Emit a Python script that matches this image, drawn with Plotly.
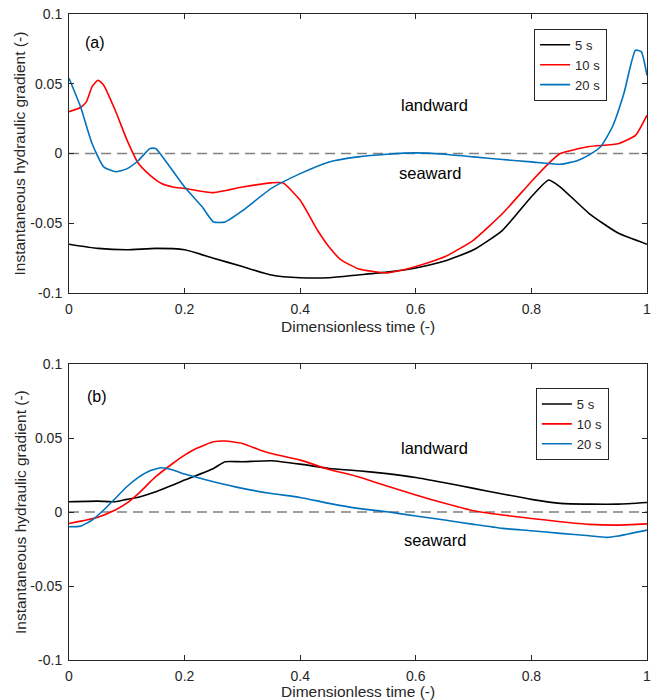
import plotly.graph_objects as go

# ---------------- data ----------------
series_names = ["5 s", "10 s", "20 s"]
series_colors = ["#000000", "#ff0000", "#0072bd"]

# Panel (a)
a_black_x = [0, 0.05, 0.1, 0.15, 0.2, 0.25, 0.3, 0.35, 0.4, 0.45, 0.5, 0.55, 0.6, 0.65, 0.7, 0.75, 0.8, 0.83, 0.85, 0.9, 0.95, 1.0]
a_black_y = [-0.065, -0.068, -0.069, -0.068, -0.069, -0.075, -0.081, -0.087, -0.089, -0.089, -0.087, -0.085, -0.082, -0.077, -0.069, -0.055, -0.031, -0.019, -0.024, -0.043, -0.057, -0.065]

a_red_x = [0, 0.02, 0.03, 0.04, 0.05, 0.06, 0.08, 0.1, 0.12, 0.14, 0.16, 0.18, 0.2, 0.25, 0.3, 0.35, 0.37, 0.4, 0.43, 0.45, 0.47, 0.5, 0.55, 0.6, 0.65, 0.7, 0.75, 0.8, 0.83, 0.85, 0.9, 0.95, 0.98, 1.0]
a_red_y = [0.030, 0.033, 0.037, 0.048, 0.0525, 0.049, 0.031, 0.010, -0.007, -0.0155, -0.0215, -0.024, -0.025, -0.028, -0.024, -0.021, -0.021, -0.0335, -0.055, -0.067, -0.076, -0.0825, -0.0855, -0.081, -0.074, -0.062, -0.043, -0.020, -0.007, 0.000, 0.005, 0.007, 0.013, 0.0275]

a_blue_x = [0, 0.02, 0.04, 0.06, 0.08, 0.1, 0.12, 0.14, 0.15, 0.17, 0.2, 0.23, 0.25, 0.27, 0.3, 0.35, 0.4, 0.45, 0.5, 0.55, 0.6, 0.65, 0.7, 0.75, 0.8, 0.85, 0.88, 0.9, 0.92, 0.94, 0.96, 0.98, 0.99, 1.0]
a_blue_y = [0.054, 0.0335, 0.007, -0.0096, -0.013, -0.011, -0.005, 0.0036, 0.0036, -0.007, -0.024, -0.038, -0.049, -0.049, -0.041, -0.025, -0.0144, -0.006, -0.0024, -0.0005, 0.0005, -0.0005, -0.0024, -0.0043, -0.006, -0.0077, -0.005, -0.001, 0.005, 0.019, 0.043, 0.074, 0.073, 0.056]

# Panel (b)
b_black_x = [0, 0.05, 0.08, 0.1, 0.12, 0.15, 0.2, 0.25, 0.27, 0.3, 0.35, 0.4, 0.45, 0.5, 0.55, 0.6, 0.65, 0.7, 0.75, 0.8, 0.85, 0.9, 0.95, 1.0]
b_black_y = [0.007, 0.0074, 0.007, 0.0086, 0.010, 0.0137, 0.0216, 0.0295, 0.034, 0.034, 0.0347, 0.0324, 0.0295, 0.0279, 0.026, 0.0234, 0.0198, 0.016, 0.0122, 0.0086, 0.0059, 0.0054, 0.0054, 0.0065]

b_red_x = [0, 0.03, 0.05, 0.08, 0.1, 0.12, 0.15, 0.18, 0.2, 0.22, 0.25, 0.27, 0.3, 0.33, 0.35, 0.4, 0.45, 0.5, 0.55, 0.6, 0.65, 0.7, 0.75, 0.8, 0.85, 0.9, 0.95, 1.0]
b_red_y = [-0.0077, -0.0054, -0.0035, 0.0014, 0.006, 0.0125, 0.0239, 0.033, 0.0385, 0.043, 0.0475, 0.048, 0.0464, 0.042, 0.0396, 0.0351, 0.0288, 0.0239, 0.0176, 0.0115, 0.0059, 0.0009, -0.002, -0.0043, -0.0065, -0.0083, -0.0088, -0.008]

b_blue_x = [0, 0.02, 0.04, 0.06, 0.08, 0.1, 0.12, 0.14, 0.16, 0.18, 0.2, 0.25, 0.3, 0.35, 0.4, 0.45, 0.5, 0.55, 0.6, 0.65, 0.7, 0.75, 0.8, 0.85, 0.9, 0.93, 0.95, 1.0]
b_blue_y = [-0.0099, -0.0095, -0.0054, 0.0014, 0.0092, 0.0171, 0.0234, 0.0279, 0.030, 0.0284, 0.0257, 0.0205, 0.016, 0.0126, 0.0099, 0.0059, 0.0025, 0.0002, -0.0027, -0.0054, -0.0083, -0.011, -0.0126, -0.0144, -0.016, -0.0171, -0.0162, -0.0122]

x_tickvals = [0, 0.2, 0.4, 0.6, 0.8, 1]
x_ticktext = ["0", "0.2", "0.4", "0.6", "0.8", "1"]
y_tickvals = [-0.1, -0.05, 0, 0.05, 0.1]
y_ticktext = ["-0.1", "-0.05", "0", "0.05", "0.1"]

x_title = "Dimensionless time (-)"
y_title = "Instantaneous hydraulic gradient (-)"

# ---------------- figure ----------------
FONT = "Liberation Sans, Arial, sans-serif"
AX = "#262626"

fig = go.Figure()

panel_a = [(a_black_x, a_black_y), (a_red_x, a_red_y), (a_blue_x, a_blue_y)]
panel_b = [(b_black_x, b_black_y), (b_red_x, b_red_y), (b_blue_x, b_blue_y)]

for (xs, ys), name, col in zip(panel_a, series_names, series_colors):
    fig.add_trace(go.Scatter(x=xs, y=ys, mode="lines", name=name,
                             line=dict(color=col, width=1.6, shape="spline", smoothing=0.5),
                             xaxis="x", yaxis="y", legend="legend"))
for (xs, ys), name, col in zip(panel_b, series_names, series_colors):
    fig.add_trace(go.Scatter(x=xs, y=ys, mode="lines", name=name,
                             line=dict(color=col, width=1.6, shape="spline", smoothing=0.5),
                             xaxis="x2", yaxis="y2", legend="legend2"))

axis_common = dict(showline=True, linecolor=AX, linewidth=1, mirror="ticks",
                   ticks="inside", ticklen=5, tickwidth=1, tickcolor=AX,
                   showgrid=False, zeroline=False, automargin=False,
                   ticklabeloverflow="allow",
                   tickfont=dict(family=FONT, size=14, color=AX))

legend_common = dict(xanchor="right", yanchor="top",
                     bgcolor="white", bordercolor=AX, borderwidth=1,
                     font=dict(family=FONT, size=13, color=AX), itemwidth=30,
                     tracegroupgap=0)

fig.update_layout(
    template="none",
    width=657, height=700,
    margin=dict(l=69, r=10, t=14, b=40, pad=0),
    paper_bgcolor="white", plot_bgcolor="white",
    font=dict(family=FONT, color=AX),
    xaxis=dict(range=[0, 1], domain=[0, 1], anchor="y", tickvals=x_tickvals, ticktext=x_ticktext,
               ticklabelstandoff=3, **axis_common),
    yaxis=dict(range=[-0.1, 0.1], domain=[0.568, 1], anchor="x", tickvals=y_tickvals, ticktext=y_ticktext,
               ticklabelstandoff=3, **axis_common),
    xaxis2=dict(range=[0, 1], domain=[0, 1], anchor="y2", tickvals=x_tickvals, ticktext=x_ticktext,
                ticklabelstandoff=3, **axis_common),
    yaxis2=dict(range=[-0.1, 0.1], domain=[0, 0.458], anchor="x2", tickvals=y_tickvals, ticktext=y_ticktext,
                ticklabelstandoff=3, **axis_common),
    legend=dict(x=0.931, y=0.977, **legend_common),
    legend2=dict(x=0.934, y=0.421, **legend_common),
    showlegend=True,
)

# zero reference lines
for xr, yr in [("x domain", "y"), ("x2 domain", "y2")]:
    fig.add_shape(type="line", xref=xr, yref=yr, x0=0, x1=1, y0=0, y1=0,
                  line=dict(color="#808080", width=1.5, dash="10px,6px"), layer="below")

ann_font = dict(family=FONT, size=16.5, color="#000000")
annotations = [
    dict(text="(a)", x=0.0444, y=0.0794, xref="x", yref="y", showarrow=False, font=dict(family=FONT, size=16, color="#000")),
    dict(text="landward", x=0.6315, y=0.0348, xref="x", yref="y", showarrow=False, font=ann_font),
    dict(text="seaward", x=0.6246, y=-0.014, xref="x", yref="y", showarrow=False, font=ann_font),
    dict(text="(b)", x=0.049, y=0.078, xref="x2", yref="y2", showarrow=False, font=dict(family=FONT, size=16, color="#000")),
    dict(text="landward", x=0.6315, y=0.0432, xref="x2", yref="y2", showarrow=False, font=ann_font),
    dict(text="seaward", x=0.633, y=-0.0189, xref="x2", yref="y2", showarrow=False, font=ann_font),
    dict(text=x_title, x=0.5, y=0.5165, xref="paper", yref="paper", showarrow=False,
         yanchor="middle", font=dict(family=FONT, size=15.5, color=AX)),
    dict(text=x_title, x=0.5, y=-0.0495, xref="paper", yref="paper", showarrow=False,
         yanchor="middle", font=dict(family=FONT, size=15.5, color=AX)),
    dict(text=y_title, x=-0.0848, y=(1 + 0.568) / 2, xref="paper", yref="paper", showarrow=False,
         textangle=-90, xanchor="center", yanchor="middle", font=dict(family=FONT, size=15.5, color=AX)),
    dict(text=y_title, x=-0.0848, y=0.458 / 2, xref="paper", yref="paper", showarrow=False,
         textangle=-90, xanchor="center", yanchor="middle", font=dict(family=FONT, size=15.5, color=AX)),
]
fig.update_layout(annotations=annotations)

# remove the browser's default 8px body margin so the 657x700 figure fills the window exactly
fig.write_html("out.html", config={"displayModeBar": False},
               post_script="document.body.style.margin='0';")
